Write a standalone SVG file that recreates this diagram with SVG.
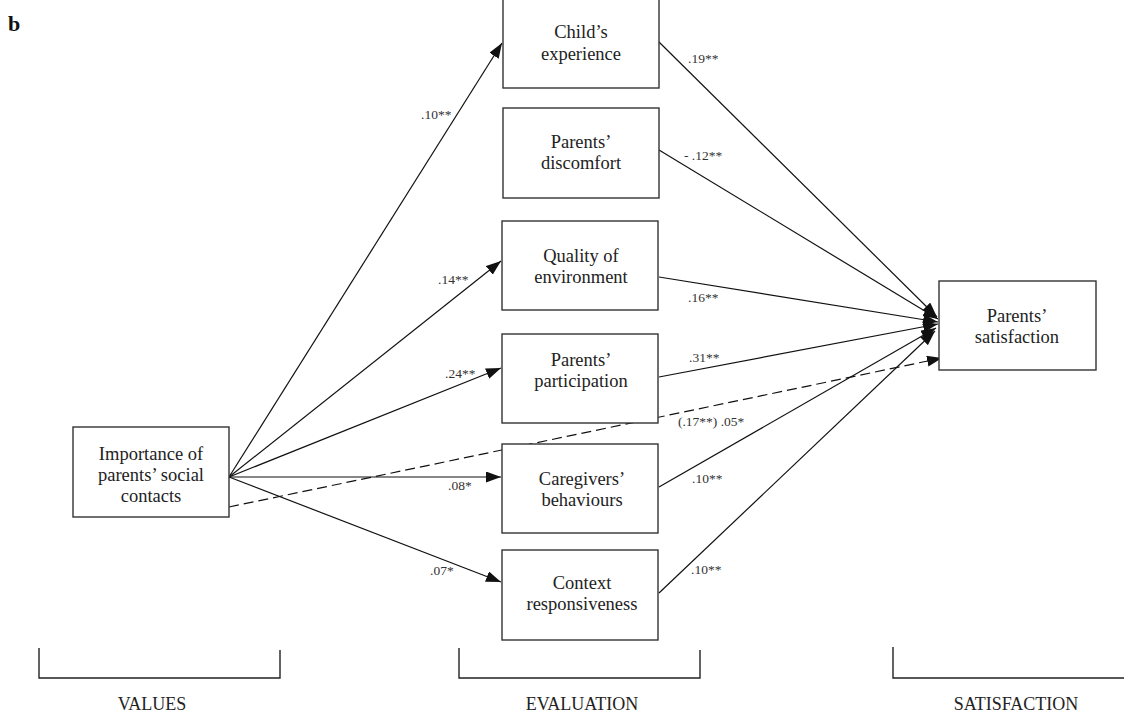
<svg xmlns="http://www.w3.org/2000/svg" width="1124" height="716" viewBox="0 0 1124 716">
  <style>
    .box { fill: #ffffff; stroke: #333333; stroke-width: 1.4; }
    .t { font-family: "Liberation Serif", "Times New Roman", serif; font-size: 18.5px; fill: #222222; text-anchor: middle; }
    .lbl { font-family: "Liberation Serif", "Times New Roman", serif; font-size: 13.5px; fill: #333333; }
    .edge { fill: none; stroke: #111111; stroke-width: 1.2; }
    .dash { stroke-dasharray: 10 5; }
    .brk { fill: none; stroke: #222222; stroke-width: 1.4; }
    .cap { font-family: "Liberation Serif", "Times New Roman", serif; font-size: 18px; fill: #222222; text-anchor: middle; }
  </style>
  <defs>
    <marker id="arrow" markerUnits="userSpaceOnUse" markerWidth="16" markerHeight="12" refX="15" refY="5.5" orient="auto">
      <path d="M0,0 L15,5.5 L0,11 z" fill="#111111"/>
    </marker>
  </defs>

  <rect width="1124" height="716" fill="#ffffff"/>

  <text x="8" y="31" font-family="Liberation Serif, serif" font-size="22" font-weight="bold" fill="#111111">b</text>

  <!-- connectors -->
  <g id="connectors">
    <!-- values to evaluation -->
    <line class="edge" x1="229" y1="477" x2="502" y2="43" marker-end="url(#arrow)"/>
    <line class="edge" x1="229" y1="477" x2="501" y2="261" marker-end="url(#arrow)"/>
    <line class="edge" x1="229" y1="477" x2="501" y2="368" marker-end="url(#arrow)"/>
    <line class="edge" x1="229" y1="477" x2="501" y2="477" marker-end="url(#arrow)"/>
    <line class="edge" x1="229" y1="477" x2="501" y2="582" marker-end="url(#arrow)"/>
    <!-- direct path -->
    <line class="edge dash" x1="229" y1="507" x2="942" y2="358" marker-end="url(#arrow)"/>
    <!-- evaluation to satisfaction -->
    <line class="edge" x1="659" y1="42" x2="937" y2="317" marker-end="url(#arrow)"/>
    <line class="edge" x1="659" y1="150" x2="938" y2="319" marker-end="url(#arrow)"/>
    <line class="edge" x1="659" y1="277" x2="938" y2="322" marker-end="url(#arrow)"/>
    <line class="edge" x1="659" y1="377" x2="938" y2="324" marker-end="url(#arrow)"/>
    <line class="edge" x1="659" y1="487" x2="936" y2="328" marker-end="url(#arrow)"/>
    <line class="edge" x1="659" y1="593" x2="935" y2="331" marker-end="url(#arrow)"/>

    <!-- coefficients -->
    <text class="lbl" x="421" y="119">.10**</text>
    <text class="lbl" x="438" y="284">.14**</text>
    <text class="lbl" x="445" y="378">.24**</text>
    <text class="lbl" x="448" y="490">.08*</text>
    <text class="lbl" x="430" y="575">.07*</text>
    <text class="lbl" x="688" y="63">.19**</text>
    <text class="lbl" x="684" y="160">- .12**</text>
    <text class="lbl" x="688" y="302">.16**</text>
    <text class="lbl" x="689" y="362">.31**</text>
    <text class="lbl" x="678" y="426">(.17**) .05*</text>
    <text class="lbl" x="692" y="483">.10**</text>
    <text class="lbl" x="691" y="574">.10**</text>
  </g>

  <g id="importance">
    <rect class="box" x="73" y="427" width="156" height="90"/>
    <text class="t" x="151" y="460">Importance of</text>
    <text class="t" x="151" y="481">parents’ social</text>
    <text class="t" x="151" y="502">contacts</text>
  </g>

  <g id="child-experience">
    <rect class="box" x="503" y="-1" width="156" height="89"/>
    <text class="t" x="581" y="38">Child’s</text>
    <text class="t" x="581" y="60">experience</text>
  </g>

  <g id="parents-discomfort">
    <rect class="box" x="503" y="108" width="156" height="90"/>
    <text class="t" x="581" y="148">Parents’</text>
    <text class="t" x="581" y="169">discomfort</text>
  </g>

  <g id="quality-environment">
    <rect class="box" x="502" y="221" width="156" height="89"/>
    <text class="t" x="581" y="262">Quality of</text>
    <text class="t" x="581" y="283">environment</text>
  </g>

  <g id="parents-participation">
    <rect class="box" x="502" y="334" width="156" height="89"/>
    <text class="t" x="581" y="366">Parents’</text>
    <text class="t" x="581" y="387">participation</text>
  </g>

  <g id="caregivers-behaviours">
    <rect class="box" x="502" y="444" width="156" height="89"/>
    <text class="t" x="582" y="485">Caregivers’</text>
    <text class="t" x="582" y="506">behaviours</text>
  </g>

  <g id="context-responsiveness">
    <rect class="box" x="502" y="550" width="156" height="90"/>
    <text class="t" x="582" y="589">Context</text>
    <text class="t" x="582" y="610">responsiveness</text>
  </g>

  <g id="parents-satisfaction">
    <rect class="box" x="939" y="281" width="157" height="89"/>
    <text class="t" x="1017" y="322">Parents’</text>
    <text class="t" x="1017" y="343">satisfaction</text>
  </g>

  <!-- stage brackets -->
  <g id="stages">
    <path class="brk" d="M39,648 V678 H280 V650"/>
    <text class="cap" x="152" y="710">VALUES</text>
    <path class="brk" d="M459,648 V678 H700 V650"/>
    <text class="cap" x="582" y="710">EVALUATION</text>
    <path class="brk" d="M893,647 V678 H1124"/>
    <text class="cap" x="1016" y="710">SATISFACTION</text>
  </g>
</svg>
